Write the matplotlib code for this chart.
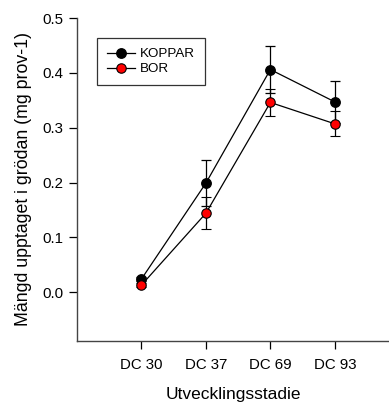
import matplotlib
matplotlib.use("Agg")
import matplotlib.pyplot as plt
from matplotlib.lines import Line2D

plt.rcParams['font.family'] = ['Liberation Sans', 'DejaVu Sans']

stadier = ['DC 30', 'DC 37', 'DC 69', 'DC 93']
koppar = [0.024, 0.199, 0.406, 0.347]
koppar_fel = [0.004, 0.042, 0.043, 0.038]
bor = [0.013, 0.144, 0.346, 0.307]
bor_fel = [0.003, 0.029, 0.024, 0.023]

x = list(range(1, len(stadier) + 1))

fig = plt.figure(figsize=(3.89, 4.03), dpi=100)
ax = fig.add_axes([77 / 389, 62 / 403, 1 - 77 / 389, 323 / 403])

ax.errorbar(x, koppar, yerr=koppar_fel, color='black', lw=0.9, marker='o',
            ms=6.8, mfc='black', mec='black', capsize=3.3, elinewidth=0.9,
            capthick=0.9, zorder=3)
ax.errorbar(x, bor, yerr=bor_fel, color='black', lw=0.9, marker='o',
            ms=6.8, mfc='red', mec='black', mew=0.8, capsize=3.3,
            elinewidth=0.9, capthick=0.9, zorder=4)

ax.set_xlim(0, 4.84)
ax.set_ylim(-0.089, 0.5)
ax.set_xticks(x)
ax.set_xticklabels(stadier)
ax.set_yticks([0.0, 0.1, 0.2, 0.3, 0.4, 0.5])
ax.set_yticklabels(['0.0', '0.1', '0.2', '0.3', '0.4', '0.5'])
ax.tick_params(labelsize=10.8, length=6, width=0.9, pad=4)
ax.tick_params(axis='x', pad=6)
ax.spines['top'].set_visible(False)
ax.spines['right'].set_visible(False)
for s in ('left', 'bottom'):
    ax.spines[s].set_linewidth(1.0)
    ax.spines[s].set_color('#444444')

ax.set_xlabel('Utvecklingsstadie', fontsize=12.5, labelpad=11)
ax.set_ylabel('Mängd upptaget i grödan (mg prov-1)', fontsize=12.8, labelpad=7)

handles = [
    Line2D([], [], color='black', lw=0.9, marker='o', ms=6.8, mfc='black', mec='black'),
    Line2D([], [], color='black', lw=0.9, marker='o', ms=6.8, mfc='red', mec='black', mew=0.8),
]
leg = ax.legend(handles, ['KOPPAR', 'BOR'], loc='upper left',
                bbox_to_anchor=(20 / 312, 1 - 20 / 323),
                frameon=True, fancybox=False, fontsize=9.6, handlelength=2.1,
                borderpad=0.75, labelspacing=0.2, handletextpad=0.4,
                borderaxespad=0)
leg.get_frame().set_edgecolor('black')
leg.get_frame().set_linewidth(0.9)

fig.savefig('out.png', dpi=100)
